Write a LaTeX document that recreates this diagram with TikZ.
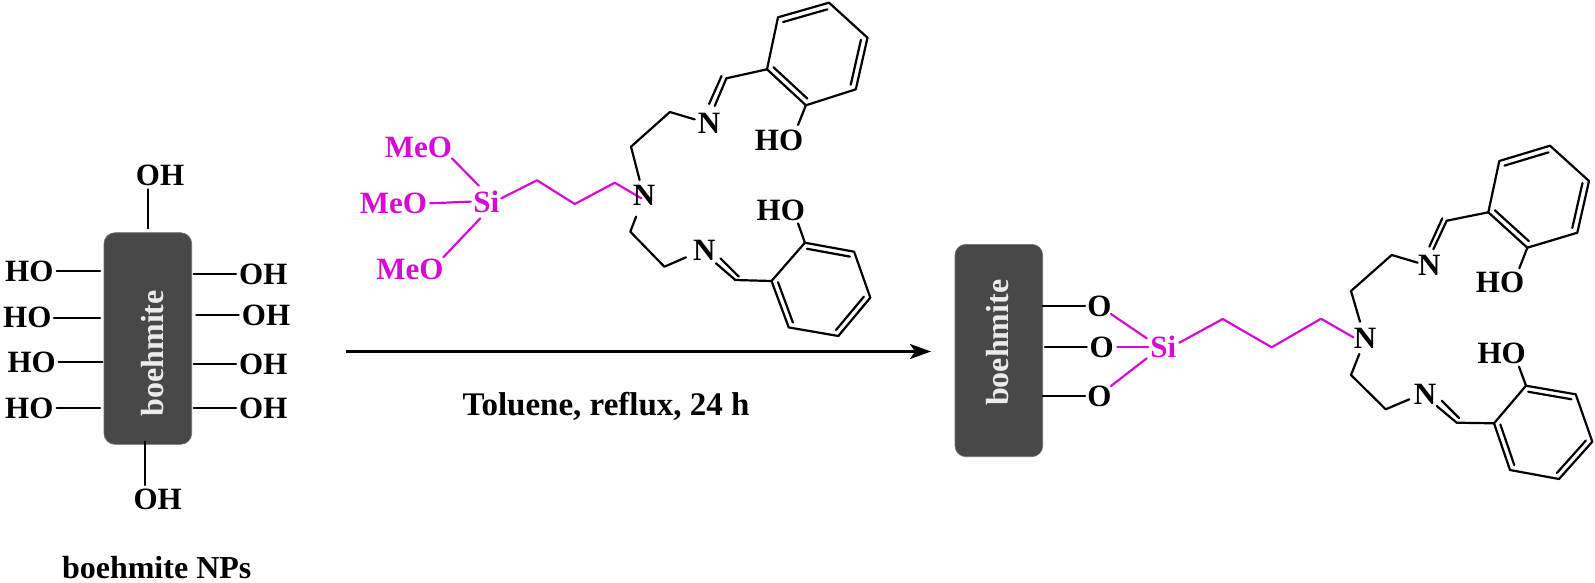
\documentclass[tikz,border=0pt]{standalone}
\usepackage{fontspec}
\setmainfont{Liberation Serif}
\usetikzlibrary{calc,arrows.meta}
\definecolor{mag}{HTML}{D60AD6}
\definecolor{boxgrey}{HTML}{484848}
\tikzset{
  lab/.style={inner sep=0pt,outer sep=0pt,anchor=center,text height=20.5pt,text depth=0pt,font=\fontsize{31}{31}\selectfont\bfseries},
  maglab/.style={lab,text=mag},
  bond/.style={line width=2.2pt,black,line cap=round,line join=round},
  magbond/.style={line width=2.2pt,mag,line cap=round,line join=round},
  plate/.style={fill=boxgrey,draw=boxgrey!80!white,line width=.6pt,rounded corners=11pt},
  platetext/.style={lab,rotate=90,text=white!92!black,text height=21pt,font=\fontsize{32}{32}\selectfont\bfseries},
  caption/.style={lab,text height=21pt,font=\fontsize{32}{32}\selectfont\bfseries},
  condition/.style={lab,text height=21.5pt,font=\fontsize{33}{33}\selectfont\bfseries},
  rxn/.style={line width=2.4pt,-{Stealth[length=21pt,width=15pt,inset=5pt]}}
}
% inner line of an aromatic double bond: vertices #1,#2, ring centre #3
\newcommand{\ringin}[3]{\draw[bond] ($(#1)!0.13!(#3)$) -- ($(#2)!0.13!(#3)$);}
\begin{document}
\begin{tikzpicture}[x=1pt,y=-1pt]
\useasboundingbox (0,0) rectangle (1595,582);
%% ---------- boehmite NPs ----------
\draw[plate] (104,232.7) rectangle (191.7,444.3);
\node[platetext] (bA) at (153.3,353.3) {boehmite};
\node[lab] (oT) at (160,175.7) {OH};
\node[lab] (oB) at (157.7,499.3) {OH};
\node[lab] (hL1) at (29.3,271.7) {HO};
\node[lab] (hL2) at (27.3,317.7) {HO};
\node[lab] (hL3) at (31.7,362) {HO};
\node[lab] (hL4) at (29.3,408.7) {HO};
\node[lab] (oR1) at (263.3,274) {OH};
\node[lab] (oR2) at (266,315.7) {OH};
\node[lab] (oR3) at (263.3,364.3) {OH};
\node[lab] (oR4) at (263.3,408.3) {OH};
\node[caption] (capA) at (156.7,567.5) {boehmite NPs};
\coordinate (t1) at (148,189.3); \coordinate (t2) at (148,228.3);
\coordinate (u1) at (145.3,441.7); \coordinate (u2) at (145.3,485);
\coordinate (l1a) at (56.7,271.3); \coordinate (l1b) at (100,271.3);
\coordinate (l2a) at (54,317.7); \coordinate (l2b) at (100,317.7);
\coordinate (l3a) at (58.7,361.7); \coordinate (l3b) at (102.3,361.7);
\coordinate (l4a) at (56.7,408.3); \coordinate (l4b) at (100,408.3);
\coordinate (r1a) at (193.7,273.7); \coordinate (r1b) at (236,273.7);
\coordinate (r2a) at (196.3,315.3); \coordinate (r2b) at (238.7,315.3);
\coordinate (r3a) at (193.7,364); \coordinate (r3b) at (236,364);
\coordinate (r4a) at (193.7,408); \coordinate (r4b) at (236,408);
\foreach \a/\b in {t1/t2,u1/u2,l1a/l1b,l2a/l2b,l3a/l3b,l4a/l4b,r1a/r1b,r2a/r2b,r3a/r3b,r4a/r4b}
  \draw[bond] (\a) -- (\b);
%% ---------- reagent ----------
\node[maglab] (meA) at (418.5,147.6) {MeO};
\node[maglab] (meB) at (393.4,203.3) {MeO};
\node[maglab] (meC) at (409.9,269.3) {MeO};
\node[maglab] (siA) at (486.3,202.3) {Si};
\coordinate (m1a) at (451.9,158.3); \coordinate (m1b) at (478.8,185.7);
\coordinate (m2a) at (430.2,203.3); \coordinate (m2b) at (470.9,201.6);
\coordinate (m3a) at (443.3,257.3); \coordinate (m3b) at (480.2,218.4);
\foreach \a/\b in {m1a/m1b,m2a/m2b,m3a/m3b} \draw[magbond] (\a) -- (\b);
\coordinate (c0) at (501.2,198.3); \coordinate (c1) at (537,180.3);
\coordinate (c2) at (574.8,204); \coordinate (c3) at (614.8,182.7);
\coordinate (c4) at (641.3,198.3);
\draw[magbond] (c0) -- (c1) -- (c2) -- (c3) -- (c4);
\node[lab] (nA) at (644,195.6) {N};
\node[lab] (n1A) at (709.1,123.3) {N};
\node[lab] (n2A) at (704.3,250.7) {N};
\node[lab] (hoA1) at (779,140) {HO};
\node[lab] (hoA2) at (780.8,210.6) {HO};
% upper arm
\coordinate (p1) at (639.6,180); \coordinate (p2) at (631,146.7);
\coordinate (p3) at (669.9,112); \coordinate (p4) at (694.7,119.4);
\draw[bond] (p1) -- (p2) -- (p3) -- (p4);
\coordinate (d1a) at (721.5,76); \coordinate (d1b) at (709.1,104);
\coordinate (d2a) at (726.4,78.3); \coordinate (d2b) at (714.7,106);
\draw[bond] (d1a) -- (d1b); \draw[bond] (d2a) -- (d2b);
\coordinate (a1) at (767,69.3); \coordinate (a2) at (778,17.3);
\coordinate (a3) at (829,2.7); \coordinate (a4) at (867.5,37.7);
\coordinate (a5) at (855.8,89.3); \coordinate (a6) at (805.9,105.3);
\coordinate (aC) at (817,53.6);
\draw[bond] (d2a) -- (a1);
\draw[bond] (a1) -- (a2) -- (a3) -- (a4) -- (a5) -- (a6) -- cycle;
\ringin{a2}{a3}{aC} \ringin{a4}{a5}{aC} \ringin{a6}{a1}{aC}
\coordinate (ao) at (798,125); \draw[bond] (a6) -- (ao);
% lower arm
\coordinate (q1) at (636.1,216.6); \coordinate (q2) at (630.3,231.7);
\coordinate (q3) at (664.4,266.7); \coordinate (q4) at (686,257.3);
\draw[bond] (q1) -- (q2) -- (q3) -- (q4);
\coordinate (e1a) at (720.5,258.4); \coordinate (e1b) at (738.8,276.6);
\coordinate (e2a) at (716,263.3); \coordinate (e2b) at (735.3,280);
\draw[bond] (e1a) -- (e1b); \draw[bond] (e2a) -- (e2b);
\coordinate (b1) at (771.5,281); \coordinate (b2) at (804.9,242.7);
\coordinate (b3) at (854.1,251.7); \coordinate (b4) at (870.3,297.7);
\coordinate (b5) at (838.3,336); \coordinate (b6) at (788.7,327.4);
\coordinate (bC) at (821,289.4);
\draw[bond] (e2b) -- (b1);
\draw[bond] (b1) -- (b2) -- (b3) -- (b4) -- (b5) -- (b6) -- cycle;
\ringin{b2}{b3}{bC} \ringin{b4}{b5}{bC} \ringin{b6}{b1}{bC}
\coordinate (bo) at (798,223.3); \draw[bond] (b2) -- (bo);
%% ---------- arrow ----------
\coordinate (arrS) at (345.8,351.5); \coordinate (arrE) at (931,351.5);
\draw[rxn] (arrS) -- (arrE);
\node[condition] (cond) at (606,405) {Toluene, reflux, 24 h};
%% ---------- product ----------
\draw[plate] (955,244.3) rectangle (1042.7,456.7);
\node[platetext] (bB) at (998.3,342.7) {boehmite};
\node[lab] (oa) at (1099.3,306) {O};
\node[lab] (ob) at (1101.7,347.3) {O};
\node[lab] (oc) at (1099.3,396) {O};
\node[maglab] (siB) at (1163.3,347.3) {Si};
\coordinate (s1a) at (1042.7,306); \coordinate (s1b) at (1085,306);
\coordinate (s2a) at (1045,346.7); \coordinate (s2b) at (1086.7,346.7);
\coordinate (s3a) at (1042.7,395.7); \coordinate (s3b) at (1085,395.7);
\foreach \a/\b in {s1a/s1b,s2a/s2b,s3a/s3b} \draw[bond] (\a) -- (\b);
\coordinate (g1a) at (1111,314); \coordinate (g1b) at (1146.7,338.3);
\coordinate (g2a) at (1117.3,346.7); \coordinate (g2b) at (1148.3,346.7);
\coordinate (g3a) at (1111,386); \coordinate (g3b) at (1146.7,358.3);
\foreach \a/\b in {g1a/g1b,g2a/g2b,g3a/g3b} \draw[magbond] (\a) -- (\b);
\coordinate (k0) at (1179.3,342.7); \coordinate (k1) at (1222.7,319);
\coordinate (k2) at (1271.7,347.3); \coordinate (k3) at (1321,318.7);
\coordinate (k4) at (1353.3,337.3);
\draw[magbond] (k0) -- (k1) -- (k2) -- (k3) -- (k4);
\node[lab] (nB) at (1365,338.3) {N};
\node[lab] (n1B) at (1429.3,265.7) {N};
\node[lab] (n2B) at (1425,394) {N};
\node[lab] (hoB1) at (1500,282.7) {HO};
\node[lab] (hoB2) at (1501.7,353.3) {HO};
% upper arm
\coordinate (v1) at (1360,321.7); \coordinate (v2) at (1351,291);
\coordinate (v3) at (1391.7,255); \coordinate (v4) at (1417.7,262.7);
\draw[bond] (v1) -- (v2) -- (v3) -- (v4);
\coordinate (f1a) at (1442.3,218.3); \coordinate (f1b) at (1429.3,246.7);
\coordinate (f2a) at (1446.7,220.7); \coordinate (f2b) at (1433.3,249.3);
\draw[bond] (f1a) -- (f1b); \draw[bond] (f2a) -- (f2b);
\coordinate (x1) at (1488.3,212.3); \coordinate (x2) at (1499.3,161);
\coordinate (x3) at (1550,145.7); \coordinate (x4) at (1589,181);
\coordinate (x5) at (1577.3,232.7); \coordinate (x6) at (1527.3,247.7);
\coordinate (xC) at (1538.7,196.7);
\draw[bond] (f2a) -- (x1);
\draw[bond] (x1) -- (x2) -- (x3) -- (x4) -- (x5) -- (x6) -- cycle;
\ringin{x2}{x3}{xC} \ringin{x4}{x5}{xC} \ringin{x6}{x1}{xC}
\coordinate (xo) at (1519.3,268.3); \draw[bond] (x6) -- (xo);
% lower arm
\coordinate (w1) at (1359.3,354); \coordinate (w2) at (1351,375);
\coordinate (w3) at (1385.7,409.3); \coordinate (w4) at (1409.3,399.3);
\draw[bond] (w1) -- (w2) -- (w3) -- (w4);
\coordinate (h1a) at (1441.7,400.7); \coordinate (h1b) at (1459.3,418.3);
\coordinate (h2a) at (1436.7,406); \coordinate (h2b) at (1456.7,422.7);
\draw[bond] (h1a) -- (h1b); \draw[bond] (h2a) -- (h2b);
\coordinate (z1) at (1494,423.3); \coordinate (z2) at (1526,385.7);
\coordinate (z3) at (1575.7,394.3); \coordinate (z4) at (1592.3,441.7);
\coordinate (z5) at (1559,479); \coordinate (z6) at (1510,470);
\coordinate (zC) at (1543,432.5);
\draw[bond] (h2b) -- (z1);
\draw[bond] (z1) -- (z2) -- (z3) -- (z4) -- (z5) -- (z6) -- cycle;
\ringin{z2}{z3}{zC} \ringin{z4}{z5}{zC} \ringin{z6}{z1}{zC}
\coordinate (zo) at (1519,366.7); \draw[bond] (z2) -- (zo);
\end{tikzpicture}
\end{document}
